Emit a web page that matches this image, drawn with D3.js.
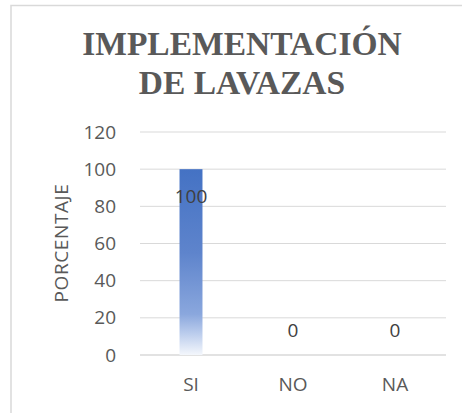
<!DOCTYPE html>
<html>
<head>
<meta charset="utf-8">
<script src="https://cdn.jsdelivr.net/npm/d3@7"></script>
<style>
  body { margin: 0; background: #fff; }
  svg { display: block; }
</style>
</head>
<body>
<script>
// chart values
const categories = ["SI", "NO", "NA"];
const values = [100, 0, 0];
const yTicks = [0, 20, 40, 60, 80, 100, 120];
const titleLines = ["IMPLEMENTACIÓN", "DE LAVAZAS"];
const yTitle = "PORCENTAJE";

const W = 462, H = 413;
const plot = { left: 140, right: 446, top: 132, bottom: 355 };
const textColor = "#595959";
const gridColor = "#d9d9d9";
const labelFont = "'Open Sans', sans-serif";

const svg = d3.select("body").append("svg")
  .attr("width", W)
  .attr("height", H);

// bar gradient, dark blue at top fading to white at the base
const grad = svg.append("defs").append("linearGradient")
  .attr("id", "barFill")
  .attr("x1", 0).attr("y1", 0).attr("x2", 0).attr("y2", 1);
grad.append("stop").attr("offset", "0%").attr("stop-color", "#4472c4");
grad.append("stop").attr("offset", "45%").attr("stop-color", "#5e84cc");
grad.append("stop").attr("offset", "78%").attr("stop-color", "#8aa7dd");
grad.append("stop").attr("offset", "88%").attr("stop-color", "#b9cbec");
grad.append("stop").attr("offset", "100%").attr("stop-color", "#f4f7fc");

// chart area border (only top/left fall inside the picture)
svg.append("rect")
  .attr("x", 11).attr("y", 5.5)
  .attr("width", 480).attr("height", 430)
  .attr("fill", "none")
  .attr("stroke", gridColor)
  .attr("stroke-width", 1.5);

// title
svg.append("text")
  .attr("text-anchor", "middle")
  .attr("font-family", "'Liberation Serif', 'Times New Roman', serif")
  .attr("font-weight", "bold")
  .attr("font-size", 33.5)
  .attr("fill", textColor)
  .selectAll("tspan")
  .data(titleLines)
  .join("tspan")
  .attr("x", 242)
  .attr("y", (d, i) => 55 + i * 39)
  .text(d => d);

const x = d3.scaleBand()
  .domain(categories)
  .range([plot.left, plot.right])
  .paddingInner(0.775)
  .paddingOuter(0.3875);

const y = d3.scaleLinear()
  .domain([0, 120])
  .range([plot.bottom, plot.top]);

// gridlines
svg.append("g")
  .selectAll("line")
  .data(yTicks)
  .join("line")
  .attr("x1", plot.left).attr("x2", plot.right)
  .attr("y1", d => y(d)).attr("y2", d => y(d))
  .attr("stroke", gridColor)
  .attr("stroke-width", d => d === 0 ? 1.5 : 1);

// y axis tick labels
const yAxis = svg.append("g")
  .attr("transform", `translate(${plot.left - 24},0)`)
  .call(d3.axisLeft(y).tickValues(yTicks).tickSize(0).tickPadding(0));
yAxis.select(".domain").remove();
yAxis.selectAll("text")
  .attr("font-family", labelFont)
  .attr("font-size", 19)
  .attr("fill", textColor);

// x axis category labels
const xAxis = svg.append("g")
  .attr("transform", `translate(0,${plot.bottom + 22})`)
  .call(d3.axisBottom(x).tickSize(0).tickPadding(0));
xAxis.select(".domain").remove();
xAxis.selectAll("text")
  .attr("font-family", labelFont)
  .attr("font-size", 19)
  .attr("fill", textColor);

// y axis title
svg.append("text")
  .attr("transform", `translate(68,243) rotate(-90)`)
  .attr("text-anchor", "middle")
  .attr("font-family", labelFont)
  .attr("font-size", 19)
  .attr("letter-spacing", 0.6)
  .attr("fill", textColor)
  .text(yTitle);

// bars
svg.append("g")
  .selectAll("rect")
  .data(values)
  .join("rect")
  .attr("x", (d, i) => x(categories[i]))
  .attr("y", d => y(d))
  .attr("width", x.bandwidth())
  .attr("height", d => y(0) - y(d))
  .attr("fill", "url(#barFill)");

// data labels
svg.append("g")
  .selectAll("text")
  .data(values)
  .join("text")
  .attr("x", (d, i) => x(categories[i]) + x.bandwidth() / 2)
  .attr("y", d => d > 0 ? y(d) + 27 : y(d) - 25)
  .attr("dy", "0.35em")
  .attr("text-anchor", "middle")
  .attr("font-family", labelFont)
  .attr("font-size", 19)
  .attr("fill", "#404040")
  .text(d => d);
</script>
</body>
</html>
